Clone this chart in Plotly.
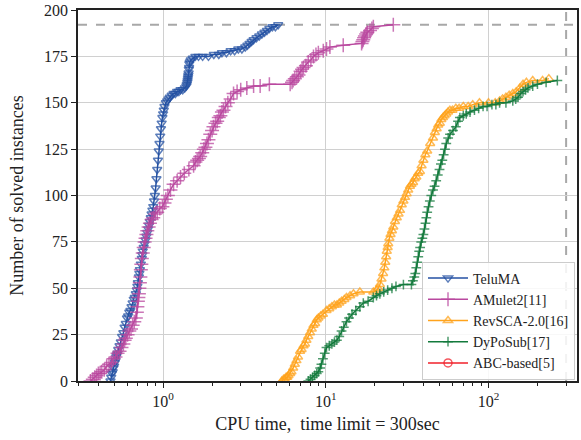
import plotly.graph_objects as go

# ---- data (times in seconds, cumulative solved count) ----
teluma_t = [0.475, 0.48, 0.485, 0.49, 0.495, 0.50, 0.505, 0.51, 0.515, 0.52, 0.525, 0.53, 0.54, 0.55,
            0.56, 0.57, 0.58, 0.59, 0.60, 0.61, 0.62, 0.63, 0.64, 0.65, 0.66, 0.67, 0.68, 0.69, 0.695,
            0.70, 0.71, 0.715, 0.72, 0.73, 0.74, 0.745, 0.75, 0.76, 0.77, 0.78, 0.79, 0.80, 0.81, 0.82,
            0.83, 0.84, 0.85, 0.86, 0.87, 0.88, 0.89, 0.90, 0.91, 0.92, 0.93, 0.94, 0.95, 0.96, 0.97,
            0.98, 0.99, 1.0, 1.01, 1.02, 1.04, 1.06, 1.08, 1.10, 1.13, 1.16, 1.19, 1.22, 1.25, 1.28,
            1.32, 1.36, 1.39, 1.40, 1.41, 1.415, 1.42, 1.425, 1.43, 1.435, 1.44, 1.445, 1.45, 1.46,
            1.48, 1.52, 1.58, 1.65, 1.75, 1.9, 2.05, 2.2, 2.3, 2.45, 2.6, 2.75, 2.9, 3.05, 3.2, 3.3,
            3.4, 3.5, 3.6, 3.75, 3.9, 4.05, 4.2, 4.35, 4.5, 4.7, 4.9, 5.1]
teluma_n = [0, 2, 4, 5, 7, 8, 10, 11, 13, 14, 15, 17, 19, 21,
            24, 26, 29, 31, 34, 35, 37, 38, 40, 42, 44, 45, 47, 49, 51,
            53, 56, 58, 60, 63, 66, 68, 70, 72, 74, 76, 78, 80, 82, 84,
            86, 88, 90, 92, 94, 97, 100, 104, 109, 114, 119, 124, 128, 132, 136,
            139, 142, 144, 146, 148, 150, 151, 152, 153, 154, 155, 155, 156, 156, 157,
            157, 158, 159, 160, 161, 162, 163, 164, 165, 166, 168, 169, 171, 172,
            173, 174, 175, 175, 175, 175, 176, 176, 177, 177, 178, 178, 179, 179, 180, 181,
            182, 183, 184, 185, 186, 187, 188, 189, 190, 191, 191, 192]

amulet_t = [0.358, 0.37, 0.38, 0.39, 0.40, 0.41, 0.42, 0.435, 0.45, 0.465, 0.48, 0.495, 0.51, 0.525,
            0.54, 0.555, 0.57, 0.58, 0.59, 0.605, 0.62, 0.635, 0.65, 0.665, 0.68, 0.69, 0.695, 0.70,
            0.705, 0.71, 0.715, 0.72, 0.725, 0.73, 0.735, 0.74, 0.75, 0.76, 0.77, 0.78, 0.79, 0.80,
            0.815, 0.83, 0.85, 0.87, 0.895, 0.92, 0.955, 0.99, 1.02, 1.04, 1.07, 1.11, 1.16, 1.22,
            1.28, 1.35, 1.44, 1.54, 1.58, 1.62, 1.66, 1.69, 1.74, 1.78, 1.82, 1.86, 1.90, 1.95, 2.0,
            2.04, 2.1, 2.15, 2.2, 2.25, 2.3, 2.35, 2.42, 2.5, 2.6, 2.71, 2.85, 3.0, 3.27, 3.6, 3.95,
            4.5, 6.04, 6.2, 6.3, 6.45, 6.64, 6.8, 7.0, 7.15, 7.3, 7.55, 7.8, 8.1, 8.4, 8.7, 9.0,
            9.65, 10.1, 10.6, 12.8, 16.6, 16.8, 17.0, 17.2, 17.4, 17.7, 18.0, 18.7, 19.2, 19.6, 26.0]
amulet_n = [0, 1, 2, 3, 4, 4, 5, 6, 8, 9, 10, 12, 13, 15,
            16, 18, 20, 22, 23, 25, 27, 28, 30, 32, 34, 37, 40, 43,
            45, 47, 50, 53, 56, 60, 63, 66, 69, 72, 75, 77, 79, 81,
            83, 85, 87, 88, 90, 91, 93, 94, 96, 98, 100, 103, 106, 108,
            110, 112, 114, 116, 118, 119, 120, 121, 123, 125, 126, 128, 130, 133, 135,
            137, 139, 140, 142, 143, 145, 146, 148, 150, 152, 155, 156, 157, 158, 159, 159,
            160, 160, 161, 162, 163, 164, 165, 167, 168, 169, 170, 172, 173, 175, 176, 177,
            178, 179, 180, 181, 182, 183, 184, 185, 186, 187, 188, 189, 190, 191, 192]

revsca_t = [5.37, 5.5, 5.6, 5.7, 5.8, 5.9, 6.04, 6.15, 6.3, 6.45, 6.6, 6.75, 6.95, 7.1, 7.3, 7.45,
            7.6, 7.8, 8.0, 8.2, 8.4, 8.6, 8.8, 9.0, 9.3, 9.6, 10.1, 10.5, 10.9, 11.3, 11.7, 12.1,
            12.5, 13.0, 13.4, 14.1, 14.8, 16.2, 19.6, 20.5, 21.0, 21.5, 22.0, 22.5, 22.9, 23.2, 23.5,
            23.7, 24.0, 24.2, 24.6, 25.0, 25.5, 26.0, 26.6, 27.3, 28.0, 28.6, 29.3, 30.0, 30.7, 31.4,
            32.1, 32.9, 33.6, 34.4, 35.2, 36.0, 37.0, 37.9, 38.8, 39.8, 40.9, 42.0, 43.8, 45.6, 46.8,
            48.0, 49.1, 50.2, 51.3, 52.5, 53.7, 55.0, 56.4, 57.9, 60.0, 63.0, 66.0, 70.0, 75.0, 80.0,
            88.0, 100.0, 110.0, 117.0, 122.0, 128.0, 134.0, 141.0, 148.0, 156.0, 163.0, 171.0, 187.0,
            215.0, 235.0]
revsca_n = [0, 1, 1, 2, 2, 3, 4, 5, 7, 9, 11, 13, 16, 17, 19, 20,
            22, 24, 26, 28, 30, 31, 33, 34, 35, 36, 38, 39, 40, 41, 41, 42,
            43, 44, 45, 46, 47, 48, 48, 49, 50, 52, 55, 58, 61, 64, 67,
            70, 72, 74, 77, 79, 81, 83, 86, 88, 90, 92, 95, 97, 99, 101,
            103, 105, 106, 107, 109, 110, 112, 113, 116, 119, 122, 124, 128, 131, 134,
            136, 138, 139, 141, 142, 143, 144, 145, 146, 146, 147, 147, 148, 148, 149,
            150, 150, 150, 151, 152, 153, 154, 155, 156, 158, 160, 161, 162,
            162, 163]

dyposub_t = [7.8, 8.05, 8.3, 8.55, 8.8, 9.0, 9.23, 9.4, 9.6, 9.85, 10.1, 10.5, 10.9, 11.3, 11.7,
             12.1, 12.5, 12.9, 13.4, 13.9, 14.5, 15.3, 16.2, 17.0, 18.2, 19.6, 20.5, 21.5, 22.7,
             24.0, 25.5, 27.0, 30.0, 33.6, 34.3, 35.0, 35.5, 36.0, 36.5, 37.0, 37.5, 38.0, 38.6,
             39.2, 39.8, 40.4, 41.0, 41.5, 42.0, 42.8, 43.6, 44.5, 45.6, 46.6, 47.7, 48.8, 50.0,
             51.0, 52.0, 53.0, 54.0, 55.0, 56.5, 58.0, 60.5, 63.0, 65.0, 66.7, 70.0, 73.0, 77.0,
             82.0, 87.0, 92.6, 98.0, 105.0, 111.0, 117.0, 128.0, 141.0, 147.0, 152.0, 158.0, 163.0,
             169.0, 175.0, 187.0, 200.0, 226.0, 265.0]
dyposub_n = [0, 1, 2, 3, 4, 5, 7, 9, 12, 15, 18, 19, 20, 21, 22,
             24, 27, 29, 32, 34, 36, 38, 40, 42, 43, 45, 46, 47, 48,
             49, 50, 51, 52, 52, 54, 56, 58, 61, 64, 67, 70, 72, 75,
             77, 79, 82, 85, 88, 91, 94, 97, 100, 103, 105, 108, 111, 114,
             117, 119, 122, 125, 128, 131, 133, 135, 137, 140, 142, 143, 144, 145,
             146, 147, 148, 148, 149, 149, 150, 150, 151, 152, 153, 155, 156,
             157, 158, 159, 160, 161, 162]

abc_t = [None]
abc_n = [None]

total_instances = 192
time_limit = 300

# ---- figure ----
FONT = "Liberation Serif"
fig = go.Figure()

series = [
    ("TeluMA", teluma_t, teluma_n, "#2451a3", "triangle-down-open", 8),
    ("AMulet2[11]", amulet_t, amulet_n, "#b9489f", "cross-thin-open", 10),
    ("RevSCA-2.0[16]", revsca_t, revsca_n, "#ffa31c", "triangle-up-open", 8),
    ("DyPoSub[17]", dyposub_t, dyposub_n, "#137a3c", "cross-thin-open", 7),
    ("ABC-based[5]", abc_t, abc_n, "#f0202a", "circle-open", 8),
]
for name, xs, ys, col, sym, sz in series:
    fig.add_trace(go.Scatter(
        x=xs, y=ys, name=name, mode="lines+markers",
        line=dict(color=col, width=1.5),
        marker=dict(symbol=sym, size=sz, color=col, line=dict(color=col, width=1.5), opacity=0.75),
    ))

fig.add_shape(type="line", xref="paper", x0=0, x1=1, yref="y", y0=total_instances, y1=total_instances,
              line=dict(color="#a8a8a8", width=2, dash="dash"), layer="below")
fig.add_shape(type="line", xref="x", x0=time_limit, x1=time_limit, yref="paper", y0=0, y1=1,
              line=dict(color="#a8a8a8", width=2, dash="dash"), layer="below")

minor_vals = [0.3, 0.4, 0.5, 0.6, 0.7, 0.8, 0.9, 2, 3, 4, 5, 6, 7, 8, 9,
              20, 30, 40, 50, 60, 70, 80, 90, 200, 300]

fig.update_layout(
    width=581, height=440,
    margin=dict(l=78, r=4, t=10, b=59),
    plot_bgcolor="white", paper_bgcolor="white",
    font=dict(family=FONT, color="#222222", size=15),
    showlegend=True,
    legend=dict(x=0.996, y=0.004, xanchor="right", yanchor="bottom",
                bgcolor="rgba(255,255,255,0.85)", bordercolor="#cccccc", borderwidth=1,
                font=dict(family=FONT, size=14, color="#222222"),
                tracegroupgap=0, itemwidth=40),
    xaxis=dict(
        type="log", range=[-0.523, 2.544], automargin=False,
        tickvals=[1, 10, 100], ticktext=["10<sup>0</sup>", "10<sup>1</sup>", "10<sup>2</sup>"],
        ticks="outside", ticklen=5, tickcolor="#222222",
        showline=True, linecolor="#222222", linewidth=1.5, mirror=True,
        showgrid=True, gridcolor="#d0d0d0", gridwidth=1.2,
        zeroline=False,
        minor=dict(tickvals=minor_vals, ticks="outside", ticklen=3, tickcolor="#222222", showgrid=False),
        title=dict(text="CPU time,  time limit = 300sec", font=dict(size=18), standoff=8),
        tickfont=dict(size=16),
    ),
    yaxis=dict(
        range=[0, 200], dtick=25, automargin=False,
        ticks="outside", ticklen=5, tickcolor="#222222",
        showline=True, linecolor="#222222", linewidth=1.5, mirror=True,
        showgrid=True, gridcolor="#d0d0d0", gridwidth=1.2,
        zeroline=False,
        title=dict(text="Number of solved instances", font=dict(size=18), standoff=16),
        tickfont=dict(size=16),
    ),
)

fig.write_html("out.html", config={"displayModeBar": False})

# remove the default page margin so the figure sits at the window's top-left corner
with open("out.html", "r", encoding="utf-8") as f:
    html = f.read()
html = html.replace("<head>", "<head><style>html,body{margin:0;padding:0;overflow:hidden;}</style>", 1)
with open("out.html", "w", encoding="utf-8") as f:
    f.write(html)
